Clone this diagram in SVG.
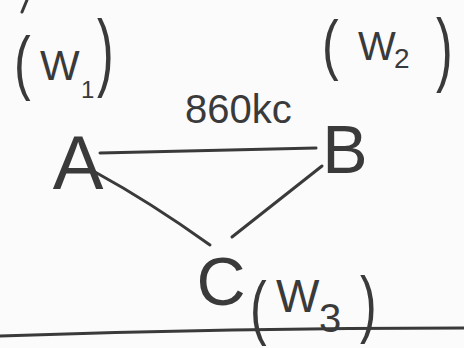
<svg xmlns="http://www.w3.org/2000/svg" width="464" height="348" viewBox="0 0 464 348">
<style>
text{font-family:"Liberation Sans","DejaVu Sans",sans-serif;fill:#3a3a3a}
.p{font-size:50px}
.ln{fill:none;stroke:#3a3a3a;stroke-width:3;stroke-linecap:round}
</style>
<rect width="464" height="348" fill="#fbfbfb"/>
<path class="ln" d="M22,12 L27,0"/>
<g id="connectors">
<path class="ln" d="M100,153 L316,148"/>
<path class="ln" d="M95,172 Q150,202 210,245"/>
<path class="ln" d="M322,166 L232,237"/>
<text x="185" y="123" font-size="40">860kc</text>
</g>
<g id="nodeA">
<text x="78" y="189" font-size="76" text-anchor="middle">A</text>
<text class="p" transform="translate(14,86) scale(1,1.42)">(</text>
<text x="40" y="80" font-size="42">W</text>
<text x="81" y="98" font-size="24">1</text>
<text class="p" transform="translate(97,80) scale(1,1.7)">)</text>
</g>
<g id="nodeB">
<text x="345" y="173" font-size="68" text-anchor="middle">B</text>
<text class="p" transform="translate(322,67) scale(1,1.32)">(</text>
<text x="358" y="60" font-size="40">W</text>
<text x="394" y="68" font-size="28">2</text>
<text class="p" transform="translate(436,76) scale(1,1.64)">)</text>
</g>
<g id="nodeC">
<text x="221" y="305" font-size="68" text-anchor="middle">C</text>
<text class="p" transform="translate(250,331) scale(1,1.42)">(</text>
<text x="276" y="312" font-size="46">W</text>
<text x="319" y="332" font-size="40">3</text>
<text class="p" transform="translate(360,329) scale(1,1.5)">)</text>
</g>
<path class="ln" d="M0,336 Q232,328 464,328"/>
</svg>
